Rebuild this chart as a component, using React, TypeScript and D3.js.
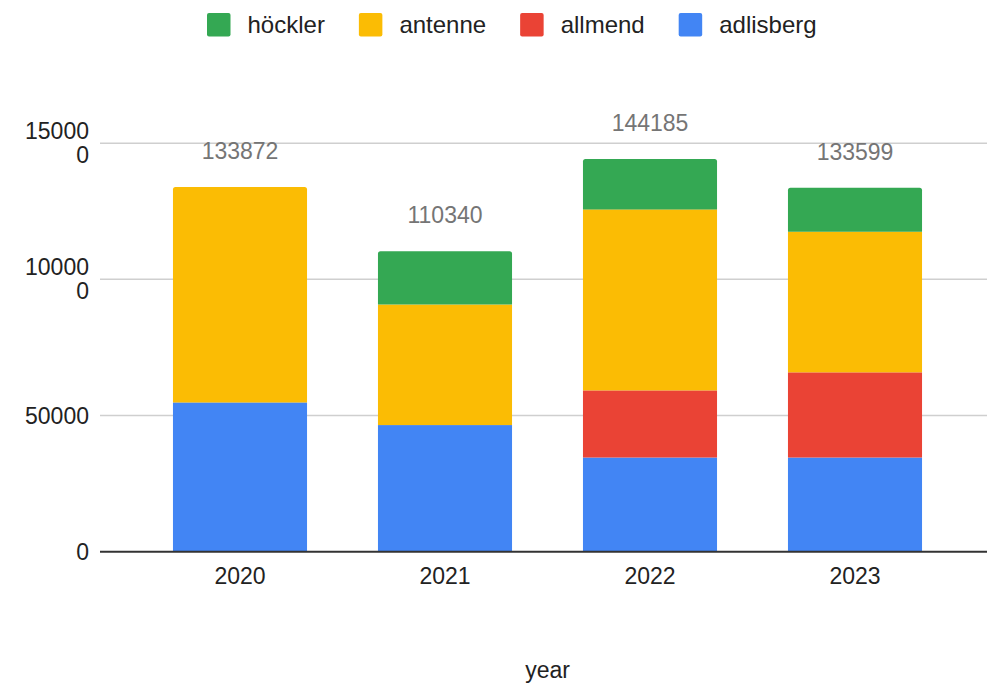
import React, { useEffect, useRef } from "react";
import * as d3 from "d3";

const years = ["2020", "2021", "2022", "2023"];
const seriesNames = ["adlisberg", "allmend", "antenne", "höckler"];
const adlisberg = [54820, 46500, 34580, 34580];
const allmend = [0, 0, 24650, 31280];
const antenne = [79052, 44270, 66470, 51640];
const hoeckler = [0, 19570, 18485, 16099];
const totals = [133872, 110340, 144185, 133599];
const yTicks = [0, 50000, 100000, 150000];
const legendOrder = ["höckler", "antenne", "allmend", "adlisberg"];
const colors: Record<string, string> = {
  adlisberg: "#4285F4",
  allmend: "#EA4335",
  antenne: "#FBBC04",
  "höckler": "#34A853",
};

const W = 987;
const H = 687;
const FONT = "'Liberation Sans', Arial, Roboto, sans-serif";

export default function App() {
  const ref = useRef<SVGSVGElement | null>(null);

  useEffect(() => {
    const svg = d3.select(ref.current);
    svg.selectAll("*").remove();

    const rows = years.map((year, i) => ({
      year,
      adlisberg: adlisberg[i],
      allmend: allmend[i],
      antenne: antenne[i],
      "höckler": hoeckler[i],
      total: totals[i],
    }));

    const x = d3
      .scaleBand<string>()
      .domain(years)
      .range([137.5, 957.5])
      .paddingInner(0.346)
      .paddingOuter(0.173);
    const y = d3.scaleLinear().domain([0, 150000]).range([551.7, 143.2]);

    const gridLeft = 100;
    const gridRight = W;

    // gridlines
    svg
      .append("g")
      .selectAll("line")
      .data(yTicks.filter((t) => t > 0))
      .join("line")
      .attr("x1", gridLeft)
      .attr("x2", gridRight)
      .attr("y1", (d) => y(d))
      .attr("y2", (d) => y(d))
      .attr("stroke", "#cfcfcf")
      .attr("stroke-width", 1.5);

    // y tick labels (long values wrap onto two lines)
    const tickG = svg
      .append("g")
      .attr("font-family", FONT)
      .attr("font-size", 23)
      .attr("fill", "#222")
      .attr("text-anchor", "end");
    yTicks.forEach((t) => {
      const s = String(t);
      const lines = s.length > 5 ? [s.slice(0, 5), s.slice(5)] : [s];
      const text = tickG.append("text").attr("x", 89);
      const lh = 24;
      const startDy = -((lines.length - 1) * lh) / 2;
      lines.forEach((ln, k) => {
        text
          .append("tspan")
          .attr("x", 89)
          .attr("y", y(t) + startDy + k * lh)
          .attr("dy", "0.35em")
          .text(ln);
      });
    });

    // stacked bars
    const stack = d3.stack<any>().keys(seriesNames);
    const stacked = stack(rows);
    const topKey = (i: number) => {
      let k = "";
      seriesNames.forEach((n) => {
        if ((rows[i] as any)[n] > 0) k = n;
      });
      return k;
    };
    const bw = x.bandwidth();
    const r = 2.5;
    stacked.forEach((layer) => {
      const g = svg.append("g").attr("fill", colors[layer.key]);
      layer.forEach((seg, i) => {
        const v = seg[1] - seg[0];
        if (v <= 0) return;
        const x0 = x(years[i]) as number;
        const y0 = y(seg[1]);
        const y1 = y(seg[0]);
        if (topKey(i) === layer.key) {
          const p = d3.path();
          p.moveTo(x0, y1);
          p.lineTo(x0, y0 + r);
          p.quadraticCurveTo(x0, y0, x0 + r, y0);
          p.lineTo(x0 + bw - r, y0);
          p.quadraticCurveTo(x0 + bw, y0, x0 + bw, y0 + r);
          p.lineTo(x0 + bw, y1);
          p.closePath();
          g.append("path").attr("d", p.toString());
        } else {
          g.append("rect")
            .attr("x", x0)
            .attr("y", y0)
            .attr("width", bw)
            .attr("height", y1 - y0);
        }
      });
    });

    // baseline
    svg
      .append("line")
      .attr("x1", gridLeft)
      .attr("x2", gridRight)
      .attr("y1", y(0))
      .attr("y2", y(0))
      .attr("stroke", "#333")
      .attr("stroke-width", 2);

    // totals above bars
    svg
      .append("g")
      .attr("font-family", FONT)
      .attr("font-size", 23)
      .attr("fill", "#757575")
      .attr("text-anchor", "middle")
      .selectAll("text")
      .data(rows)
      .join("text")
      .attr("x", (d) => (x(d.year) as number) + bw / 2)
      .attr("y", (d) => y(d.total) - 28)
      .text((d) => String(d.total));

    // x axis labels
    svg
      .append("g")
      .attr("font-family", FONT)
      .attr("font-size", 23)
      .attr("fill", "#222")
      .attr("text-anchor", "middle")
      .selectAll("text")
      .data(years)
      .join("text")
      .attr("x", (d) => (x(d) as number) + bw / 2)
      .attr("y", 583.5)
      .text((d) => d);

    // axis title
    svg
      .append("text")
      .attr("x", (x.range()[0] + x.range()[1]) / 2)
      .attr("y", 678)
      .attr("font-family", FONT)
      .attr("font-size", 23)
      .attr("fill", "#222")
      .attr("text-anchor", "middle")
      .text("year");

    // legend
    const lg = svg.append("g").attr("font-family", FONT).attr("font-size", 24).attr("fill", "#222");
    let cx = 207;
    legendOrder.forEach((name) => {
      lg.append("rect")
        .attr("x", cx)
        .attr("y", 13)
        .attr("width", 23.5)
        .attr("height", 23.5)
        .attr("rx", 2)
        .attr("fill", colors[name]);
      const t = lg
        .append("text")
        .attr("x", cx + 40.5)
        .attr("y", 24.5)
        .attr("dy", "0.35em")
        .text(name);
      const w = (t.node() as SVGTextElement).getComputedTextLength();
      cx = cx + 40.5 + w + 34;
    });
  }, []);

  return (
    <svg
      ref={ref}
      width={W}
      height={H}
      style={{ position: "absolute", left: 0, top: 0, background: "#fff" }}
    />
  );
}
